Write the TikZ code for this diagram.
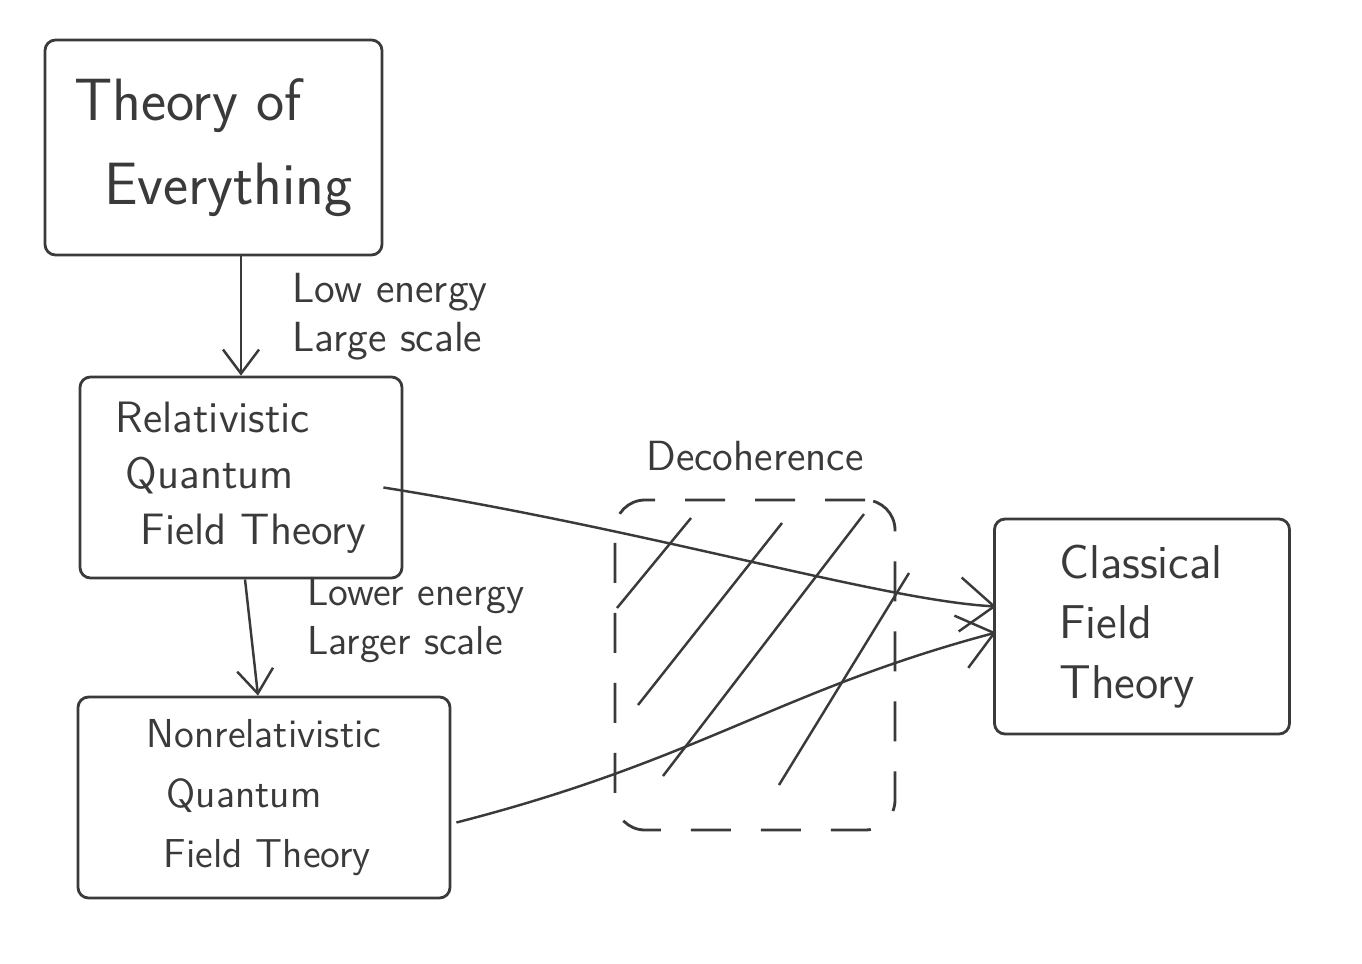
\documentclass[tikz,border=0pt]{standalone}
\usepackage{tikz}
\usetikzlibrary{arrows.meta,positioning,calc}
\definecolor{InkGray}{HTML}{3A3A3A}

\begin{document}
\begin{tikzpicture}[>={Straight Barb[length=2.4mm,width=3.6mm]},
  box/.style={draw=InkGray,line width=.8pt,rounded corners=3pt,align=left,text=InkGray,inner sep=0pt},
  note/.style={align=left,text=InkGray,font=\sffamily\fontsize{12}{14}\selectfont},
  ink/.style={draw=InkGray,line width=.7pt},
  bigtip/.style={-{Straight Barb[length=3.4mm,width=5.4mm]}}]
\useasboundingbox (0,0) rectangle (13.62,-9.64);
\node[box,minimum width=3.37cm,minimum height=2.15cm,font=\sffamily\fontsize{17}{24}\selectfont] (toe) at (2.135,-1.475) {Theory of\\\hspace*{.3cm}Everything};
\node[box,minimum width=3.22cm,minimum height=2.01cm,font=\sffamily\fontsize{12.5}{16}\selectfont] (rq) at (2.41,-4.775) {Relativistic\\\hspace*{.1cm}Quantum\\\hspace*{.25cm}Field Theory};
\node[box,minimum width=3.72cm,minimum height=2.01cm,font=\sffamily\fontsize{11.5}{17}\selectfont] (nr) at (2.64,-7.975) {Nonrelativistic\\\hspace*{.2cm}Quantum\\\hspace*{.17cm}Field Theory};
\node[box,minimum width=2.95cm,minimum height=2.15cm,font=\sffamily\fontsize{13.5}{17}\selectfont] (cl) at (11.42,-6.265) {Classical\\Field\\Theory\hspace*{.3cm}};
\node[box,dashed,dash pattern=on 4mm off 3mm,rounded corners=.3cm,minimum width=2.8cm,minimum height=3.3cm] (deco) at (7.55,-6.65) {};
\node[note] (decolab) at (7.55,-4.56) {Decoherence};
\node[note,anchor=west] (lab1) at (2.8,-3.17) {Low energy\\Large scale};
\node[note,anchor=west,font=\sffamily\fontsize{11.5}{14}\selectfont] (lab2) at (2.95,-6.2) {Lower energy\\Larger scale};
% hatching of the decoherence region
\draw[ink] (6.17,-6.08) -- (6.91,-5.18);
\draw[ink] (6.38,-7.05) -- (7.82,-5.23);
\draw[ink] (6.63,-7.76) -- (8.64,-5.14);
\draw[ink] (7.79,-7.85) -- (9.09,-5.73);
% arrows
\draw[ink,->] (toe.south -| rq.north) -- (rq.north);
\draw[ink,->] ([xshift=.04cm]rq.south) -- ([xshift=-.06cm]nr.north);
\draw[ink,bigtip] ($(rq.east)+(-.2,-.1)$) .. controls (6.5,-5.3) and (8.8,-6.0) .. ($(cl.west)+(.03,.2)$);
\draw[ink,bigtip] ($(nr.east)+(.05,-.25)$) .. controls (7.0,-7.6) and (7.8,-6.9) .. ($(cl.west)+(.03,-.06)$);
\end{tikzpicture}
\end{document}
